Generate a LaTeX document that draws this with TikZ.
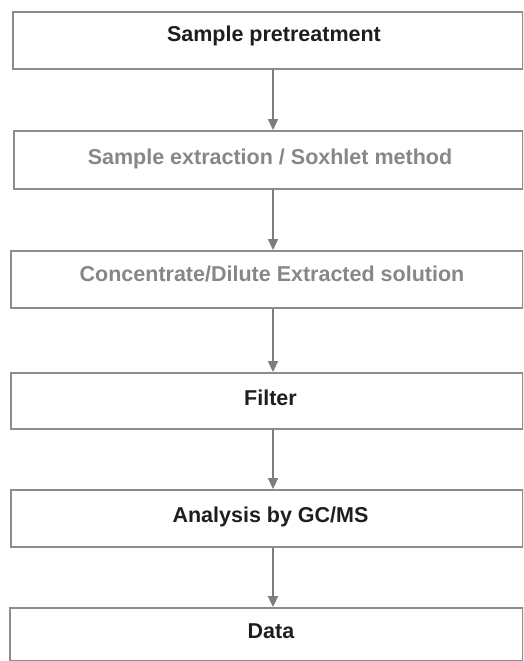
\documentclass[tikz,border=0pt]{standalone}
\usepackage{fontspec}
\setmainfont{Liberation Sans}
\usetikzlibrary{arrows.meta}
\definecolor{boxgray}{RGB}{140,140,140}
\definecolor{arrgray}{RGB}{125,125,125}
\definecolor{txtgray}{RGB}{135,135,135}
\definecolor{txtblack}{RGB}{30,30,30}
\begin{document}
\begin{tikzpicture}[x=1pt,y=-1pt,
  box/.style={draw=boxgray, line width=1.8pt, inner sep=0pt, anchor=north west},
  lbl/.style={font=\bfseries\fontsize{21.5}{24}\selectfont, inner sep=0pt, anchor=base, text=txtblack},
  lblgray/.style={lbl, text=txtgray},
  arr/.style={draw=arrgray, line width=2.2pt, -{Triangle[width=10pt,length=11pt]}}]
\useasboundingbox (0,0) rectangle (523,661);
\begin{scope}
\clip (0,0) rectangle (523,661);
\node[box, minimum width=510pt, minimum height=57pt] (b1) at (12,11) {};
\node[box, minimum width=509pt, minimum height=58pt] (b2) at (13,130) {};
\node[box, minimum width=512pt, minimum height=57pt] (b3) at (10,250) {};
\node[box, minimum width=512pt, minimum height=56pt] (b4) at (10,372) {};
\node[box, minimum width=512pt, minimum height=57pt] (b5) at (10,489) {};
\node[box, minimum width=513pt, minimum height=53pt] (b6) at (9,607) {};
\end{scope}
\node[lbl] (t1) at (274,41.5) {Sample pretreatment};
\node[lblgray] (t2) at (270,164) {Sample extraction / Soxhlet method};
\node[lblgray] (t3) at (272,281.5) {Concentrate/Dilute Extracted solution};
\node[lbl] (t4) at (270.5,405) {Filter};
\node[lbl] (t5) at (270.5,522) {Analysis by GC/MS};
\node[lbl] (t6) at (271,638) {Data};
\coordinate (ax) at (273,0);
\draw[arr] (b1.south -| ax) -- (b2.north -| ax);
\draw[arr] (b2.south -| ax) -- (b3.north -| ax);
\draw[arr] (b3.south -| ax) -- (b4.north -| ax);
\draw[arr] (b4.south -| ax) -- (b5.north -| ax);
\draw[arr] (b5.south -| ax) -- (b6.north -| ax);
\end{tikzpicture}
\end{document}
